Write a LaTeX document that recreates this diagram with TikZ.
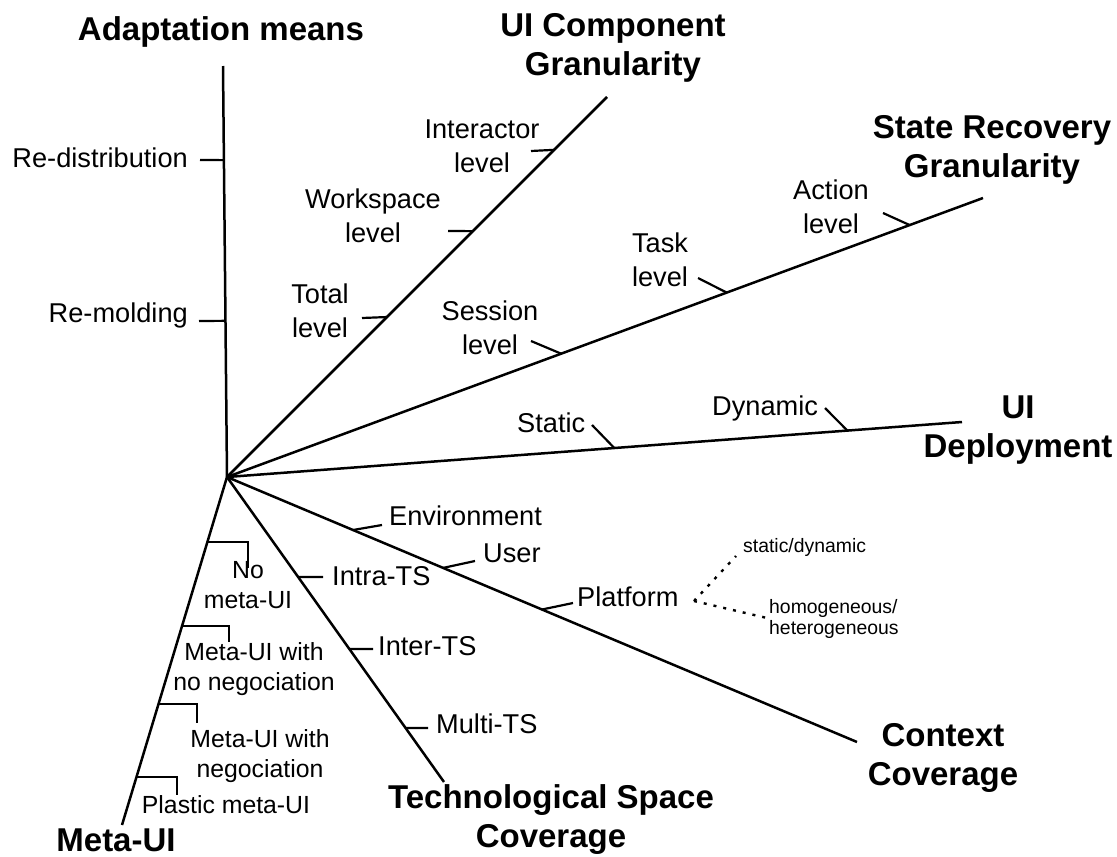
\documentclass[tikz,border=0pt]{standalone}
\usepackage{fontspec}
\setmainfont{Liberation Sans}
\usetikzlibrary{calc}
\begin{document}
\begin{tikzpicture}[x=1pt,y=-1pt,
  axis/.style={line width=2.5pt},
  tickline/.style={line width=2.2pt},
  dotline/.style={line width=2.4pt, dash pattern=on 3pt off 7pt},
  ttl/.style={font=\fontsize{33}{39}\selectfont\bfseries, align=center, anchor=base, inner sep=0pt},
  lab/.style={font=\fontsize{27.2}{34}\selectfont, align=center, anchor=base, inner sep=0pt},
  mlab/.style={font=\fontsize{24.8}{30}\selectfont, align=center, anchor=base, inner sep=0pt},
  slab/.style={font=\fontsize{19.4}{21}\selectfont, align=left, anchor=base west, inner sep=0pt},
]
\fill[white] (0,0) rectangle (1117,857);
\useasboundingbox (0,0) rectangle (1117,857);

% axes
\coordinate (O) at (227,477);
\coordinate (eAM) at (223,66);
\coordinate (eUC) at (607,97);
\coordinate (eSR) at (983,198);
\coordinate (eUD) at (962,422);
\coordinate (eCC) at (857,742);
\coordinate (eTS) at (444,782);
\coordinate (eMU) at (122,825);
\foreach \e in {eAM,eUC,eSR,eUD,eCC,eTS,eMU} \draw[axis] (O) -- (\e);

% titles (base = baseline of last line)
\node[ttl] (tAM) at (221,40) {Adaptation means};
\node[ttl] (tUC) at (613,75) {UI Component\\Granularity};
\node[ttl] (tSR) at (992,177) {State Recovery\\Granularity};
\node[ttl] (tUD) at (1018,457) {UI\\Deployment};
\node[ttl] (tCC) at (943,785) {Context\\Coverage};
\node[ttl] (tTS) at (551,847) {Technological Space\\Coverage};
\node[ttl] (tMU) at (116,851) {Meta-UI};

% Adaptation means
\coordinate (aRD) at ($(O)!0.771!(eAM)$); \coordinate (oRD) at (200,160);
\coordinate (aRM) at ($(O)!0.380!(eAM)$); \coordinate (oRM) at (199,321);
\draw[tickline] (aRD) -- (oRD);
\draw[tickline] (aRM) -- (oRM);
\node[lab, anchor=base east] (lRD) at (188,167) {Re-distribution};
\node[lab, anchor=base east] (lRM) at (188,322) {Re-molding};

% UI Component granularity
\coordinate (aIL) at ($(O)!0.861!(eUC)$); \coordinate (oIL) at (531,151);
\coordinate (aWL) at ($(O)!0.647!(eUC)$); \coordinate (oWL) at (448,231);
\coordinate (aTL) at ($(O)!0.421!(eUC)$); \coordinate (oTL) at (362,318);
\draw[tickline] (aIL) -- (oIL);
\draw[tickline] (aWL) -- (oWL);
\draw[tickline] (aTL) -- (oTL);
\node[lab] (lIL) at (482,172) {Interactor\\level};
\node[lab] (lWL) at (373,242) {Workspace\\level};
\node[lab] (lTL) at (320,337) {Total\\level};

% State recovery granularity
\coordinate (aAL) at ($(O)!0.903!(eSR)$); \coordinate (oAL) at (883,213);
\coordinate (aKL) at ($(O)!0.661!(eSR)$); \coordinate (oKL) at (698,278);
\coordinate (aSL) at ($(O)!0.442!(eSR)$); \coordinate (oSL) at (531,341);
\draw[tickline] (aAL) -- (oAL);
\draw[tickline] (aKL) -- (oKL);
\draw[tickline] (aSL) -- (oSL);
\node[lab] (lAL) at (831,233) {Action\\level};
\node[lab] (lKL) at (660,286) {Task\\level};
\node[lab] (lSL) at (490,354) {Session\\level};

% UI deployment
\coordinate (aDY) at ($(O)!0.844!(eUD)$); \coordinate (oDY) at (825,408);
\coordinate (aST) at ($(O)!0.527!(eUD)$); \coordinate (oST) at (592,425);
\draw[tickline] (aDY) -- (oDY);
\draw[tickline] (aST) -- (oST);
\node[lab, anchor=base west] (lDY) at (712,415) {Dynamic};
\node[lab, anchor=base west] (lST) at (517,432) {Static};

% Context coverage
\coordinate (aEN) at ($(O)!0.200!(eCC)$); \coordinate (oEN) at (382,525);
\coordinate (aUS) at ($(O)!0.343!(eCC)$); \coordinate (oUS) at (475,561);
\coordinate (aPL) at ($(O)!0.500!(eCC)$); \coordinate (oPL) at (573,603);
\draw[tickline] (aEN) -- (oEN);
\draw[tickline] (aUS) -- (oUS);
\draw[tickline] (aPL) -- (oPL);
\node[lab, anchor=base west] (lEN) at (389,525) {Environment};
\node[lab, anchor=base west] (lUS) at (483,562) {User};
\node[lab, anchor=base west] (lPL) at (577,606) {Platform};
\coordinate (pD) at (694,601);
\coordinate (pU) at (736,556);
\coordinate (pL) at (767,618);
\draw[dotline] (pD) -- (pU);
\draw[dotline] (pD) -- (pL);
\node[slab] (sSD) at (743,552) {static/dynamic};
\node[slab] (sHH) at (769,634) {homogeneous/\\heterogeneous};

% Technological space coverage
\coordinate (aIA) at ($(O)!0.328!(eTS)$); \coordinate (oIA) at (323,577);
\coordinate (aIE) at ($(O)!0.564!(eTS)$); \coordinate (oIE) at (373,649);
\coordinate (aMT) at ($(O)!0.823!(eTS)$); \coordinate (oMT) at (428,728);
\draw[tickline] (aIA) -- (oIA);
\draw[tickline] (aIE) -- (oIE);
\draw[tickline] (aMT) -- (oMT);
\node[lab, anchor=base west] (lIA) at (332,585) {Intra-TS};
\node[lab, anchor=base west] (lIE) at (378,655) {Inter-TS};
\node[lab, anchor=base west] (lMT) at (436,733) {Multi-TS};

% Meta-UI
\coordinate (aNM) at ($(O)!0.187!(eMU)$); \coordinate (oNM) at (248,568);
\coordinate (aMN) at ($(O)!0.428!(eMU)$); \coordinate (oMN) at (229,642);
\coordinate (aMW) at ($(O)!0.652!(eMU)$); \coordinate (oMW) at (197,723);
\coordinate (aPM) at ($(O)!0.862!(eMU)$); \coordinate (oPM) at (177,795);
\draw[tickline] (aNM) -| (oNM);
\draw[tickline] (aMN) -| (oMN);
\draw[tickline] (aMW) -| (oMW);
\draw[tickline] (aPM) -| (oPM);
\node[mlab] (lNM) at (248,608) {No\\meta-UI};
\node[mlab] (lMN) at (254,690) {Meta-UI with\\no negociation};
\node[mlab] (lMW) at (260,777) {Meta-UI with\\negociation};
\node[mlab] (lPM) at (226,813) {Plastic meta-UI};
\end{tikzpicture}
\end{document}
